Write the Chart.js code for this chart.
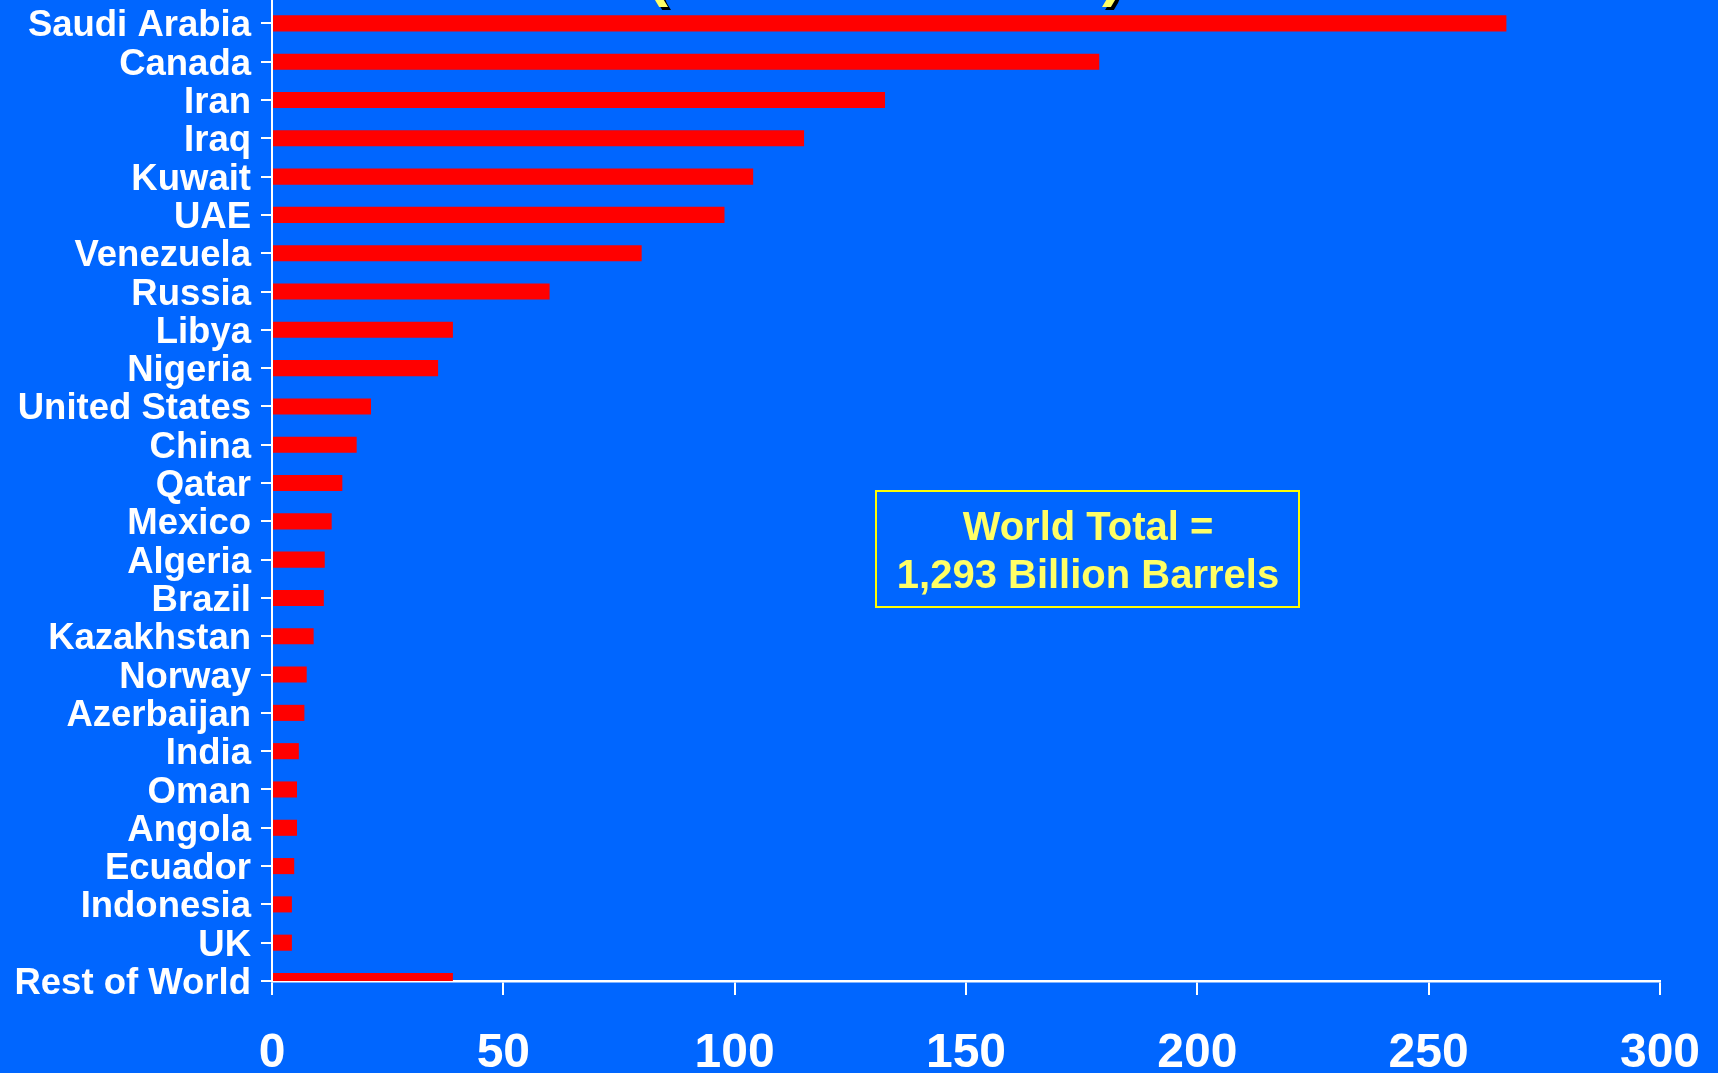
<!DOCTYPE html>
<html lang="en">
    <head>
        <meta charset="UTF-8">
        <title>Proved Oil Reserves by Country</title>
        <script src="https://cdn.jsdelivr.net/npm/chart.js"></script>
        <style>
            html, body {
                margin: 0;
                padding: 0;
                background-color: #0066FF;
                overflow: hidden;
            }
            .chart-container {
                width: 1718px;
                height: 1073px;
            }
        </style>
    </head>
    <body>
        <div class="chart-container">
            <canvas id="reservesChart"></canvas>
        </div>
        <script>
            // values (billion barrels)
            const countries = ['Saudi Arabia', 'Canada', 'Iran', 'Iraq', 'Kuwait', 'UAE', 'Venezuela', 'Russia',
                'Libya', 'Nigeria', 'United States', 'China', 'Qatar', 'Mexico', 'Algeria', 'Brazil',
                'Kazakhstan', 'Norway', 'Azerbaijan', 'India', 'Oman', 'Angola', 'Ecuador', 'Indonesia',
                'UK', 'Rest of World'];
            const reserves = [266.8, 178.8, 132.5, 115.0, 104.0, 97.8, 79.9, 60.0,
                39.1, 35.9, 21.4, 18.3, 15.2, 12.9, 11.4, 11.2,
                9.0, 7.5, 7.0, 5.8, 5.4, 5.4, 4.8, 4.3,
                4.3, 39.1];
            const xTicks = [0, 50, 100, 150, 200, 250, 300];
            const titleText = '(Billion Barrels)';
            const noteLines = ['World Total =', '1,293 Billion Barrels'];

            const points = reserves.map((v, i) => ({ x: v, y: i }));

            const overlay = {
                id: 'overlay',
                afterDraw(chart) {
                    const ctx = chart.ctx;
                    ctx.save();
                    // title line, mostly above the top edge
                    ctx.font = 'bold 64px "Liberation Sans", Arial, sans-serif';
                    ctx.textAlign = 'center';
                    ctx.textBaseline = 'alphabetic';
                    ctx.fillStyle = '#000000';
                    ctx.fillText(titleText, 888, -3);
                    ctx.fillStyle = '#FFFF66';
                    ctx.fillText(titleText, 885, -6);
                    // world total box
                    ctx.strokeStyle = '#FFFF00';
                    ctx.lineWidth = 2;
                    ctx.strokeRect(876, 491, 423, 116);
                    ctx.font = 'bold 40px "Liberation Sans", Arial, sans-serif';
                    ctx.fillStyle = '#FFFF66';
                    ctx.fillText(noteLines[0], 1088, 540);
                    ctx.fillText(noteLines[1], 1088, 588);
                    ctx.restore();
                }
            };

            const ctx = document.getElementById('reservesChart').getContext('2d');
            new Chart(ctx, {
                type: 'bar',
                data: {
                    datasets: [{
                        data: points,
                        backgroundColor: '#FF0000',
                        borderWidth: 0,
                        categoryPercentage: 1,
                        barPercentage: 0.42
                    }]
                },
                options: {
                    indexAxis: 'y',
                    responsive: true,
                    maintainAspectRatio: false,
                    animation: false,
                    layout: { padding: { left: 0, right: 58, top: 0, bottom: 0 } },
                    plugins: {
                        legend: { display: false },
                        tooltip: { enabled: false }
                    },
                    scales: {
                        x: {
                            type: 'linear',
                            min: 0,
                            max: 300,
                            afterBuildTicks: s => { s.ticks = xTicks.map(v => ({ value: v })); },
                            afterFit: s => { s.height = 92; s.paddingLeft = 0; s.paddingRight = 0; },
                            grid: { drawOnChartArea: false, color: '#FFFFFF', lineWidth: 2, tickLength: 14 },
                            border: { display: true, color: '#FFFFFF', width: 2.5 },
                            ticks: {
                                color: '#FFFFFF',
                                padding: 30,
                                maxRotation: 0,
                                font: { family: '"Liberation Sans", Arial, sans-serif', size: 48, weight: 'bold' }
                            }
                        },
                        y: {
                            type: 'linear',
                            reverse: true,
                            offset: false,
                            min: -0.61,
                            max: 25,
                            afterBuildTicks: s => { s.ticks = countries.map((c, i) => ({ value: i })); },
                            afterFit: s => { s.width = 272; s.paddingTop = 0; s.paddingBottom = 0; },
                            grid: { offset: false, drawOnChartArea: false, color: '#FFFFFF', lineWidth: 2, tickLength: 11 },
                            border: { display: true, color: '#FFFFFF', width: 2 },
                            ticks: {
                                color: '#FFFFFF',
                                padding: 10,
                                labelOffset: 3,
                                autoSkip: false,
                                callback: v => countries[v],
                                font: { family: '"Liberation Sans", Arial, sans-serif', size: 36.5, weight: 'bold' }
                            }
                        }
                    }
                },
                plugins: [overlay]
            });
        </script>
    </body>
</html>
